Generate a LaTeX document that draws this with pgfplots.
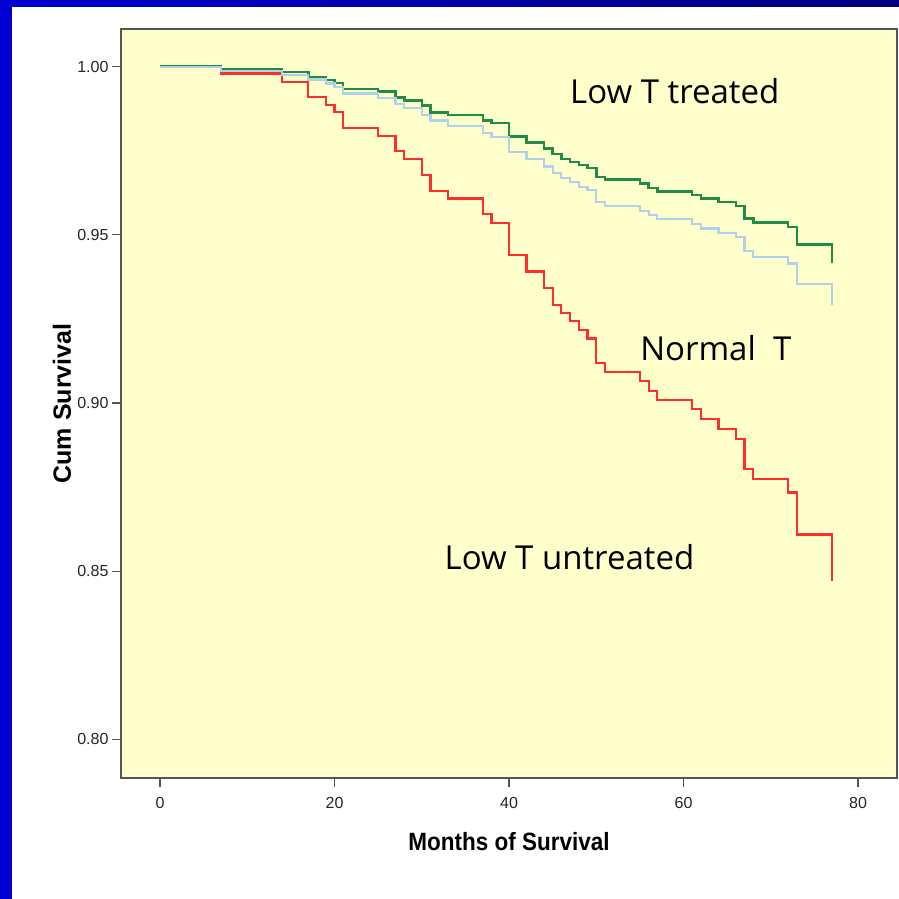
\documentclass[border=0pt]{standalone}
\usepackage{fontspec}
\setmainfont{Liberation Sans}
\newfontfamily\annfont{Open Sans}
\usepackage{graphicx}
\usepackage{pgfplots}
\pgfplotsset{compat=1.18}
\definecolor{bgyellow}{RGB}{255,255,204}
\definecolor{kmgreen}{RGB}{34,140,70}
\definecolor{kmblue}{RGB}{178,210,235}
\definecolor{kmred}{RGB}{255,45,45}
\definecolor{frameA}{RGB}{0,0,210}
\definecolor{frameB}{RGB}{0,0,128}
\definecolor{axgray}{RGB}{85,85,85}
\begin{document}
\begin{tikzpicture}[x=1pt,y=1pt]
\path[use as bounding box] (0,0) rectangle (899,899);
\fill[white] (0,0) rectangle (899,899);
\shade[left color=frameA, right color=frameB] (0,892) rectangle (899,899);
\fill[frameA] (0,0) rectangle (11.5,899);
\begin{axis}[
  at={(121pt,121pt)}, anchor=south west,
  scale only axis, width=776pt, height=749pt,
  xmin=-4.47, xmax=84.47, ymin=0.78849, ymax=1.01121,
  axis background/.style={fill=bgyellow},
  axis line style={axgray, line width=1.6pt},
  xtick={0,20,40,60,80},
  ytick={0.80,0.85,0.90,0.95,1.00},
  xtick pos=bottom, ytick pos=left,
  tick align=outside, major tick length=9pt,
  tick style={axgray, line width=1.2pt},
  /pgf/number format/assume math mode=true,
  yticklabel style={/pgf/number format/.cd, fixed, fixed zerofill, precision=2},
  xticklabel style={yshift=-7pt},
  ticklabel style={font=\fontsize{16}{19}\selectfont, text=black!85},
  every axis y label/.style={at={(axis description cs:-0.076,0.5)}, rotate=90, anchor=center},
  every axis x label/.style={at={(axis description cs:0.5,-0.0854)}, anchor=center},
  xlabel={\fontsize{25}{30}\selectfont\bfseries\scalebox{0.9}[1]{Months of Survival}},
  ylabel={\fontsize{25}{30}\selectfont\bfseries Cum Survival},
  clip=true,
]
\addplot[const plot, kmred, line width=2.2pt] coordinates {
(0,1.0) (7,0.9980) (14,0.9954) (17,0.9909) (19,0.9886) (20,0.9866) (21,0.9817)
(25,0.9795) (27,0.9749) (28,0.9725) (30,0.9678) (31,0.9631) (33,0.9608)
(37,0.9562) (38,0.9536) (40,0.9439) (42,0.9391) (44,0.9342) (45,0.9292)
(46,0.9268) (47,0.9243) (48,0.9217) (49,0.9192) (50,0.9118) (51,0.9091)
(55,0.9065) (56,0.9036) (57,0.9009) (61,0.8981) (62,0.8953) (64,0.8923)
(66,0.8894) (67,0.8804) (68,0.8774) (72,0.8734) (73,0.8609) (77,0.8471)
};
\addplot[const plot, kmgreen, line width=2.5pt] coordinates {
(0,1.0) (7,0.9993) (14,0.9984) (17,0.9968) (19,0.9960) (20,0.9952) (21,0.9934)
(25,0.9926) (27,0.9909) (28,0.9900) (30,0.9884) (31,0.9864) (33,0.9856)
(37,0.9840) (38,0.9832) (40,0.9792) (42,0.9775) (44,0.9757) (45,0.9740)
(46,0.9725) (47,0.9716) (48,0.9707) (49,0.9699) (50,0.9672) (51,0.9664)
(55,0.9652) (56,0.9640) (57,0.9629) (61,0.9618) (62,0.9608) (64,0.9597)
(66,0.9586) (67,0.9549) (68,0.9537) (72,0.9523) (73,0.9471) (77,0.9415)
};
\addplot[const plot, kmblue, line width=2.2pt] coordinates {
(0,1.0) (7,0.9987) (14,0.9975) (17,0.9962) (19,0.9950) (20,0.9940) (21,0.9920)
(25,0.9906) (27,0.9888) (28,0.9878) (30,0.9856) (31,0.9840) (33,0.9824)
(37,0.9802) (38,0.9790) (40,0.9746) (42,0.9725) (44,0.9703) (45,0.9683)
(46,0.9668) (47,0.9656) (48,0.9643) (49,0.9633) (50,0.9598) (51,0.9586)
(55,0.9572) (56,0.9559) (57,0.9547) (61,0.9532) (62,0.9519) (64,0.9506)
(66,0.9493) (67,0.9452) (68,0.9435) (72,0.9415) (73,0.9354) (77,0.9291)
};
\node[font=\annfont\fontsize{33}{40}\selectfont, anchor=center] at (axis cs:59.0,0.99277) {Low T treated};
\node[font=\annfont\fontsize{33}{40}\selectfont, anchor=center] at (axis cs:63.7,0.91635) {Normal\ \ T};
\node[font=\annfont\fontsize{33}{40}\selectfont, anchor=center] at (axis cs:46.93,0.8542) {Low T untreated};
\end{axis}
\end{tikzpicture}
\end{document}
